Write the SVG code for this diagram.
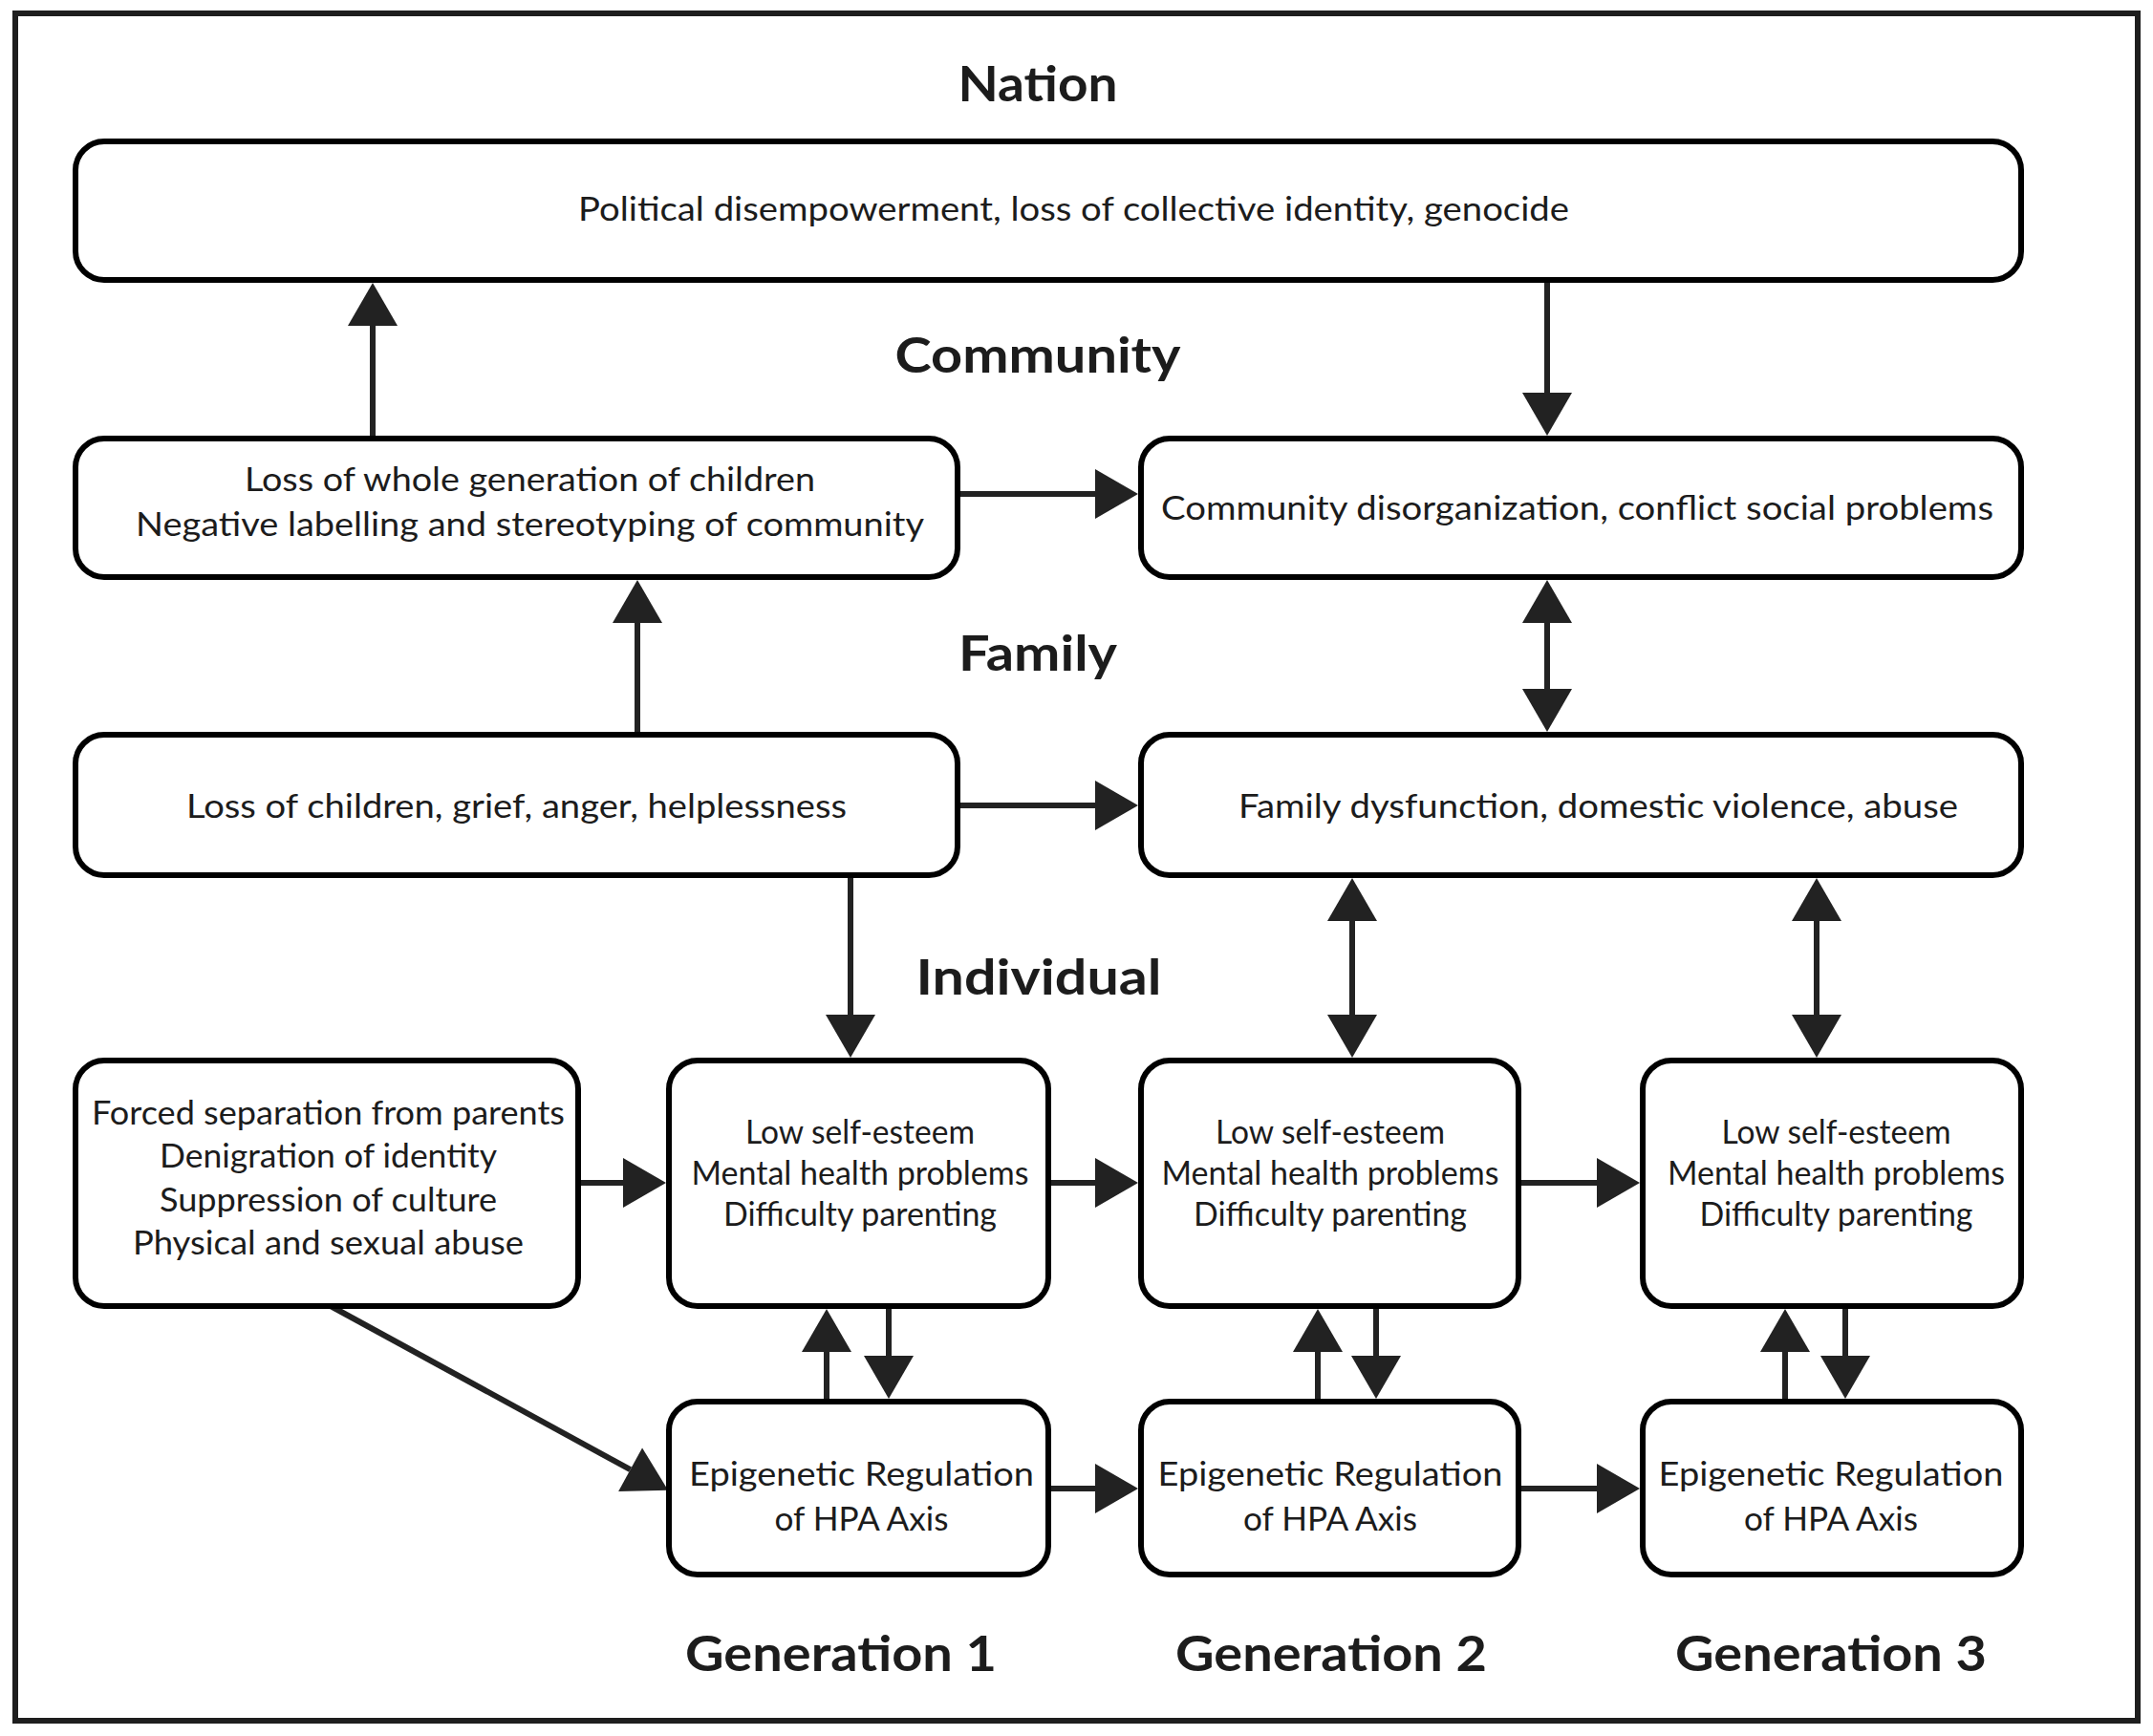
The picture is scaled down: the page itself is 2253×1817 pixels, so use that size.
<svg xmlns="http://www.w3.org/2000/svg" width="2253" height="1817" viewBox="0 0 2253 1817">
<style>
.frame{fill:#fff;stroke:#1e1e1e;stroke-width:6}
.box{fill:#fff;stroke:#000;stroke-width:6}
.t{font-family:Lato,"Liberation Sans",sans-serif;font-size:34px;fill:#1c1c1c;text-anchor:middle}
.h{font-family:Lato,"Liberation Sans",sans-serif;font-size:52px;font-weight:bold;fill:#1c1c1c;text-anchor:middle}
.c{fill:none;stroke:#222;stroke-width:6}
.a{marker-end:url(#arr)}
.d{marker-start:url(#arr);marker-end:url(#arr)}
</style>
<defs>
<marker id="arr" markerUnits="userSpaceOnUse" markerWidth="46" markerHeight="54" refX="0" refY="26" orient="auto-start-reverse" overflow="visible">
<path d="M0,0 L45,26 L0,52 Z" fill="#222"/>
</marker>
</defs>
<rect width="2253" height="1817" fill="#fff"/>
<rect class="frame" x="16" y="14" width="2221" height="1787"/>

<g id="headers">
<text class="h" x="1086" y="106" textLength="167" lengthAdjust="spacingAndGlyphs">Nation</text>
<text class="h" x="1086" y="390" textLength="299" lengthAdjust="spacingAndGlyphs">Community</text>
<text class="h" x="1086" y="702" textLength="166" lengthAdjust="spacingAndGlyphs">Family</text>
<text class="h" x="1087" y="1041" textLength="257" lengthAdjust="spacingAndGlyphs">Individual</text>
<text class="h" x="880" y="1749" textLength="326" lengthAdjust="spacingAndGlyphs">Generation 1</text>
<text class="h" x="1393" y="1749" textLength="326" lengthAdjust="spacingAndGlyphs">Generation 2</text>
<text class="h" x="1916" y="1749" textLength="326" lengthAdjust="spacingAndGlyphs">Generation 3</text>
</g>

<g id="connectors">
<line class="c a" x1="390" y1="456" x2="390" y2="341"/>
<line class="c a" x1="1619" y1="296" x2="1619" y2="411"/>
<line class="c a" x1="1005" y1="517" x2="1146" y2="517"/>
<line class="c a" x1="667" y1="766" x2="667" y2="652"/>
<line class="c a" x1="1005" y1="843" x2="1146" y2="843"/>
<line class="c d" x1="1619" y1="652" x2="1619" y2="721"/>
<line class="c a" x1="890" y1="919" x2="890" y2="1062"/>
<line class="c d" x1="1415" y1="964" x2="1415" y2="1062"/>
<line class="c d" x1="1901" y1="964" x2="1901" y2="1062"/>
<line class="c a" x1="608" y1="1238" x2="652" y2="1238"/>
<line class="c a" x1="1100" y1="1238" x2="1146" y2="1238"/>
<line class="c a" x1="1592" y1="1238" x2="1671" y2="1238"/>
<line class="c a" x1="865" y1="1464" x2="865" y2="1415"/>
<line class="c a" x1="930" y1="1370" x2="930" y2="1419"/>
<line class="c a" x1="1379" y1="1464" x2="1379" y2="1415"/>
<line class="c a" x1="1440" y1="1370" x2="1440" y2="1419"/>
<line class="c a" x1="1868" y1="1464" x2="1868" y2="1415"/>
<line class="c a" x1="1931" y1="1370" x2="1931" y2="1419"/>
<line class="c a" x1="346" y1="1367" x2="659.6" y2="1538.2"/>
<line class="c a" x1="1100" y1="1558" x2="1146" y2="1558"/>
<line class="c a" x1="1592" y1="1558" x2="1671" y2="1558"/>
</g>

<g id="nation">
<rect class="box" x="79" y="148" width="2036" height="145" rx="30"/>
<text class="t" x="1123.5" y="231" textLength="1037" lengthAdjust="spacingAndGlyphs">Political disempowerment, loss of collective identity, genocide</text>
</g>
<g id="community-loss">
<rect class="box" x="79" y="459" width="923" height="145" rx="30"/>
<text class="t" x="554.5" y="514" textLength="597" lengthAdjust="spacingAndGlyphs">Loss of whole generation of children</text>
<text class="t" x="554.5" y="561" textLength="825" lengthAdjust="spacingAndGlyphs">Negative labelling and stereotyping of community</text>
</g>
<g id="community-disorg">
<rect class="box" x="1194" y="459" width="921" height="145" rx="30"/>
<text class="t" x="1650.5" y="544" textLength="871" lengthAdjust="spacingAndGlyphs">Community disorganization, conflict social problems</text>
</g>
<g id="family-loss">
<rect class="box" x="79" y="769" width="923" height="147" rx="30"/>
<text class="t" x="540.5" y="856" textLength="691" lengthAdjust="spacingAndGlyphs">Loss of children, grief, anger, helplessness</text>
</g>
<g id="family-dysfunction">
<rect class="box" x="1194" y="769" width="921" height="147" rx="30"/>
<text class="t" x="1672.5" y="856" textLength="753" lengthAdjust="spacingAndGlyphs">Family dysfunction, domestic violence, abuse</text>
</g>
<g id="individual-trauma">
<rect class="box" x="79" y="1110" width="526" height="257" rx="30"/>
<text class="t" x="343.5" y="1177" textLength="495" lengthAdjust="spacingAndGlyphs">Forced separation from parents</text>
<text class="t" x="343.5" y="1222" textLength="353" lengthAdjust="spacingAndGlyphs">Denigration of identity</text>
<text class="t" x="343.5" y="1268" textLength="353" lengthAdjust="spacingAndGlyphs">Suppression of culture</text>
<text class="t" x="343.5" y="1313" textLength="409" lengthAdjust="spacingAndGlyphs">Physical and sexual abuse</text>
</g>
<g id="gen1-individual">
<rect class="box" x="700" y="1110" width="397" height="257" rx="30"/>
<text class="t" x="900" y="1197" textLength="240" lengthAdjust="spacingAndGlyphs">Low self-esteem</text>
<text class="t" x="900" y="1240" textLength="353" lengthAdjust="spacingAndGlyphs">Mental health problems</text>
<text class="t" x="900" y="1283" textLength="286" lengthAdjust="spacingAndGlyphs">Difficulty parenting</text>
</g>
<g id="gen2-individual">
<rect class="box" x="1194" y="1110" width="395" height="257" rx="30"/>
<text class="t" x="1392" y="1197" textLength="240" lengthAdjust="spacingAndGlyphs">Low self-esteem</text>
<text class="t" x="1392" y="1240" textLength="353" lengthAdjust="spacingAndGlyphs">Mental health problems</text>
<text class="t" x="1392" y="1283" textLength="286" lengthAdjust="spacingAndGlyphs">Difficulty parenting</text>
</g>
<g id="gen3-individual">
<rect class="box" x="1719" y="1110" width="396" height="257" rx="30"/>
<text class="t" x="1921.5" y="1197" textLength="240" lengthAdjust="spacingAndGlyphs">Low self-esteem</text>
<text class="t" x="1921.5" y="1240" textLength="353" lengthAdjust="spacingAndGlyphs">Mental health problems</text>
<text class="t" x="1921.5" y="1283" textLength="286" lengthAdjust="spacingAndGlyphs">Difficulty parenting</text>
</g>
<g id="gen1-epigenetic">
<rect class="box" x="700" y="1467" width="397" height="181" rx="30"/>
<text class="t" x="901.5" y="1555" textLength="361" lengthAdjust="spacingAndGlyphs">Epigenetic Regulation</text>
<text class="t" x="901.5" y="1602" textLength="182" lengthAdjust="spacingAndGlyphs">of HPA Axis</text>
</g>
<g id="gen2-epigenetic">
<rect class="box" x="1194" y="1467" width="395" height="181" rx="30"/>
<text class="t" x="1392" y="1555" textLength="361" lengthAdjust="spacingAndGlyphs">Epigenetic Regulation</text>
<text class="t" x="1392" y="1602" textLength="182" lengthAdjust="spacingAndGlyphs">of HPA Axis</text>
</g>
<g id="gen3-epigenetic">
<rect class="box" x="1719" y="1467" width="396" height="181" rx="30"/>
<text class="t" x="1916" y="1555" textLength="361" lengthAdjust="spacingAndGlyphs">Epigenetic Regulation</text>
<text class="t" x="1916" y="1602" textLength="182" lengthAdjust="spacingAndGlyphs">of HPA Axis</text>
</g>
</svg>
